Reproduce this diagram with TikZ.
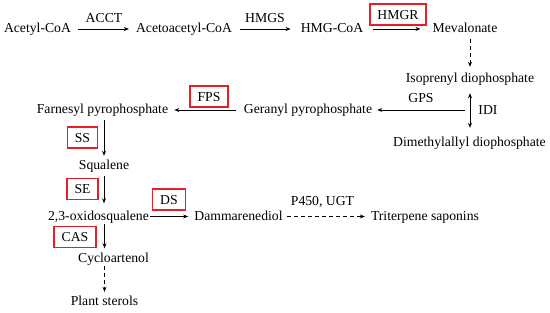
\documentclass[tikz,border=0pt]{standalone}
\usepackage{fontspec}
\setmainfont{Liberation Serif}
\usetikzlibrary{arrows.meta}
\definecolor{boxred}{RGB}{232,30,38}
\begin{document}
\begin{tikzpicture}[x=1pt,y=1pt,
  font=\fontsize{13.7}{16}\selectfont,
  txt/.style={anchor=base,inner xsep=0pt,inner ysep=4pt,text height=10pt,text depth=2pt},
  lbl/.style={anchor=base,inner sep=0pt},
  enz/.style={draw=boxred,line width=1.4pt,inner xsep=7.5pt,inner ysep=0pt,text height=9.5pt,text depth=0pt,minimum height=21pt},
  arr/.style={line width=0.8pt,-{Stealth[length=5pt,width=4pt]}},
  darr/.style={line width=0.8pt,{Stealth[length=5pt,width=4pt]}-{Stealth[length=5pt,width=4pt]}},
  dsh/.style={arr,dash pattern=on 4pt off 3pt}]
\useasboundingbox (0,0) rectangle (550,313);
% metabolites
\node[txt] (acetyl) at (37.5,280) {Acetyl-CoA};
\node[txt] (acac) at (184,280) {Acetoacetyl-CoA};
\node[txt] (hmgcoa) at (332,280) {HMG-CoA};
\node[txt] (mev) at (465,280) {Mevalonate};
\node[txt] (iso) at (470,230) {Isoprenyl diophosphate};
\node[txt] (dma) at (469.5,166) {Dimethylallyl diophosphate};
\node[txt] (ger) at (308,199) {Geranyl pyrophosphate};
\node[txt] (fpp) at (102.5,199) {Farnesyl pyrophosphate};
\node[txt] (sq) at (104,143) {Squalene};
\node[txt] (oxi) at (98.5,92.5) {2,3-oxidosqualene};
\node[txt] (dam) at (238.5,92.5) {Dammarenediol};
\node[txt] (tri) at (425,92.5) {Triterpene saponins};
\node[txt] (cyc) at (113.5,50.5) {Cycloartenol};
\node[txt] (ps) at (104.5,7) {Plant sterols};
% plain enzyme labels
\node[lbl] (accl) at (104,290) {ACCT};
\node[lbl] (hmgs) at (265,290) {HMGS};
\node[lbl] (p450) at (322.5,107) {P450, UGT};
\node[lbl] (gps) at (421,210) {GPS};
\node[lbl] (idi) at (488,198) {IDI};
% boxed enzyme labels
\node[enz] (hmgr) at (398,298.5) {HMGR};
\node[enz] (fps) at (209,216.5) {FPS};
\node[enz] (ss) at (82.5,175.5) {SS};
\node[enz] (se) at (82.5,124) {SE};
\node[enz] (ds) at (169,113.5) {DS};
\node[enz] (cas) at (75,76) {CAS};
% connectors
\draw[arr] ([xshift=7pt]acetyl.east) -- ([xshift=-7pt]acac.west);
\draw[arr] ([xshift=8pt]acac.east) -- ([xshift=-10pt]hmgcoa.west);
\draw[arr] ([xshift=10pt]hmgcoa.east) -- ([xshift=-12pt]mev.west);
\draw[dsh,shorten >=2pt] (iso.north |- mev.south) -- (iso.north);
\draw[darr,shorten <=4pt,shorten >=5pt] (iso.south) -- (iso.south |- dma.north);
\coordinate (gpsstart) at ([xshift=-5pt]ger.east -| iso.south);
\draw[arr] (gpsstart) -- ([xshift=5pt]ger.east);
\draw[arr] ([xshift=-8pt]ger.west) -- ([xshift=6pt]fpp.east);
\draw[arr] (sq.north |- fpp.south) -- (sq.north);
\draw[arr,shorten >=3pt] (sq.south) -- (sq.south |- oxi.north);
\draw[arr,shorten <=-2.5pt] (ps.north |- oxi.south) -- (ps.north |- cyc.north);
\draw[dsh,shorten <=-3pt] (ps.north |- cyc.south) -- (ps.north);
\draw[arr] ([xshift=1pt]oxi.east) -- ([xshift=-6pt]dam.west);
\draw[dsh] ([xshift=4pt]dam.east) -- ([xshift=-6pt]tri.west);
\end{tikzpicture}
\end{document}
